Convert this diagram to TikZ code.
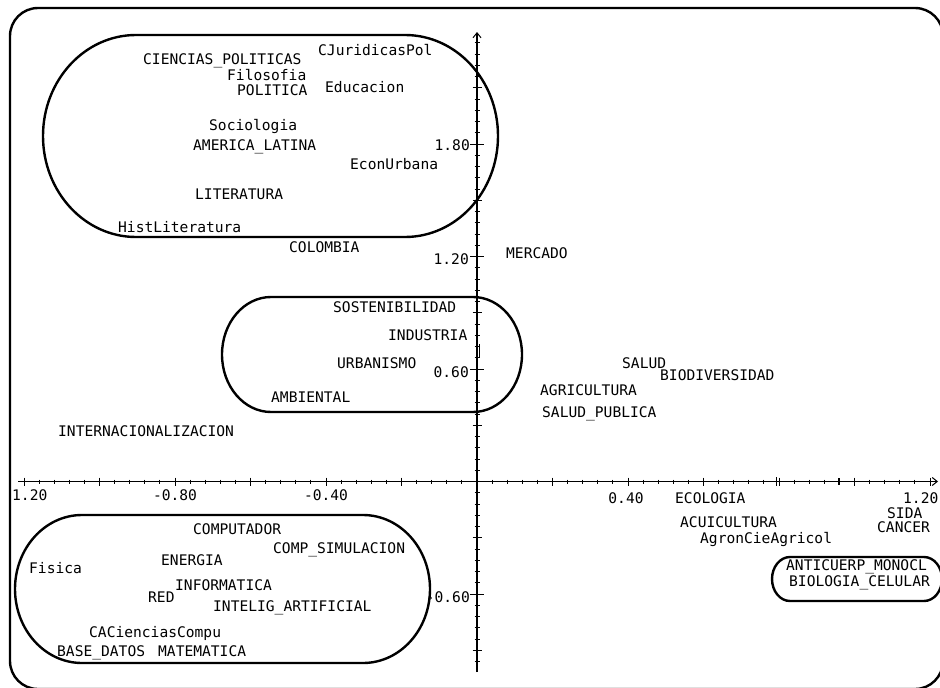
\documentclass[tikz,border=0pt]{standalone}
\usepackage{fontspec}
\setmonofont{DejaVu Sans Mono}
\usetikzlibrary{arrows.meta}
\begin{document}
\begin{tikzpicture}[x=1pt,y=-1pt,
  term/.style={font=\ttfamily\fontsize{14.6}{16}\selectfont, inner sep=0pt,
    text height=10.4pt, text depth=0pt, anchor=west},
  axlabel/.style={term},
  cluster/.style={line width=2.4pt},
  frame/.style={line width=2.4pt, rounded corners=28pt},
  axis/.style={line width=1.2pt, -{Straight Barb[length=5pt,width=8pt,line width=1pt]}},
  tick/.style={line width=1pt}]
\useasboundingbox (0,0) rectangle (940,688);
\fill[white] (0,0) rectangle (940,688);

% outer frame
\draw[frame] (10,8) rectangle (943,689);

% axes
\coordinate (xa0) at (18,481.5);
\coordinate (xa1) at (938,481.5);
\coordinate (ya0) at (477,672);
\coordinate (ya1) at (477,32);
\draw[axis] (xa0) -- (xa1);
\draw[axis] (ya0) -- (ya1);

% horizontal ticks: every 0.04, larger every 0.20
\foreach \k in {-30,...,30}
  \draw[tick] ({477+15.1*\k},479.5) -- ({477+15.1*\k},483.5);
\foreach \k in {-30,-25,...,30}
  \draw[tick] ({477+15.1*\k},477.5) -- ({477+15.1*\k},485.5);

% vertical ticks: every 0.06, larger every 0.30, labelled every 0.60
\foreach \k in {-16,...,39}
  \draw[tick] (474.5,{481.5-11.25*\k}) -- (479.5,{481.5-11.25*\k});
\foreach \k in {-15,-5,5,15,25,35}
  \draw[tick] (472.5,{481.5-11.25*\k}) -- (481.5,{481.5-11.25*\k});
\foreach \k in {-10,10,20,30}
  \draw[tick] (470,{481.5-11.25*\k}) -- (484,{481.5-11.25*\k});

% point marks on the axes
\draw[line width=1pt] (479.5,344) -- (479.5,357);
\draw[line width=2pt] (839,478) -- (839,485);
\draw[line width=1pt] (776,477) -- (776,486);

% axis values
\node[axlabel, anchor=east] (v180) at (470,145) {1.80};
\node[axlabel, anchor=east] (v120) at (469,259) {1.20};
\node[axlabel, anchor=east] (v060) at (469,372) {0.60};
\node[axlabel, anchor=east] (vm060) at (470,597) {-0.60};
\node[axlabel] (hm120) at (12,495) {1.20};
\node[axlabel, anchor=center] (hm080) at (175,495) {-0.80};
\node[axlabel, anchor=center] (hm040) at (326,495) {-0.40};
\node[axlabel, anchor=center] (h040) at (626,498) {0.40};
\node[axlabel] (h120) at (903,498) {1.20};

% clusters
\draw[cluster] (136,35) -- (405,35)
  arc[start angle=90, end angle=-90, x radius=93pt, y radius=101pt]
  -- (136,237)
  arc[start angle=270, end angle=90, x radius=93pt, y radius=101pt] -- cycle;
\draw[cluster] (271,297) -- (473,297)
  arc[start angle=90, end angle=-90, x radius=49pt, y radius=57.5pt]
  -- (271,412)
  arc[start angle=270, end angle=90, x radius=49pt, y radius=57.5pt] -- cycle;
\draw[cluster] (82,515) -- (363,515)
  arc[start angle=90, end angle=-90, x radius=67pt, y radius=74pt]
  -- (82,663)
  arc[start angle=270, end angle=90, x radius=67pt, y radius=74pt] -- cycle;
\draw[cluster] (790,557) -- (924,557)
  arc[start angle=90, end angle=-90, x radius=18pt, y radius=22pt]
  -- (790,601)
  arc[start angle=270, end angle=90, x radius=18pt, y radius=22pt] -- cycle;

% terms
\node[term] (t1) at (143,59) {CIENCIAS\_POLITICAS};
\node[term] (t2) at (318,50) {CJuridicasPol};
\node[term] (t3) at (227,75) {Filosofia};
\node[term] (t4) at (237,90) {POLITICA};
\node[term] (t5) at (325,87) {Educacion};
\node[term] (t6) at (209,125) {Sociologia};
\node[term] (t7) at (193,145) {AMERICA\_LATINA};
\node[term] (t8) at (350,164) {EconUrbana};
\node[term] (t9) at (195,194) {LITERATURA};
\node[term] (t10) at (118,227) {HistLiteratura};
\node[term] (t11) at (289,247) {COLOMBIA};
\node[term] (t12) at (506,253) {MERCADO};
\node[term] (t13) at (333,307) {SOSTENIBILIDAD};
\node[term] (t14) at (388,335) {INDUSTRIA};
\node[term] (t15) at (337,363) {URBANISMO};
\node[term] (t16) at (271,397) {AMBIENTAL};
\node[term] (t17) at (58,431) {INTERNACIONALIZACION};
\node[term] (t18) at (622,363) {SALUD};
\node[term] (t19) at (660,375) {BIODIVERSIDAD};
\node[term] (t20) at (540,390) {AGRICULTURA};
\node[term] (t21) at (542,412) {SALUD\_PUBLICA};
\node[term] (t22) at (675,498) {ECOLOGIA};
\node[term] (t23) at (680,522) {ACUICULTURA};
\node[term] (t24) at (700,538) {AgronCieAgricol};
\node[term] (t25) at (887,513) {SIDA};
\node[term] (t26) at (877,527) {CANCER};
\node[term] (t27) at (786,565) {ANTICUERP\_MONOCL};
\node[term] (t28) at (789,581) {BIOLOGIA\_CELULAR};
\node[term] (t29) at (193,529) {COMPUTADOR};
\node[term] (t30) at (273,548) {COMP\_SIMULACION};
\node[term] (t31) at (161,560) {ENERGIA};
\node[term] (t32) at (29,568) {Fisica};
\node[term] (t33) at (175,585) {INFORMATICA};
\node[term] (t34) at (148,597) {RED};
\node[term] (t35) at (213,606) {INTELIG\_ARTIFICIAL};
\node[term] (t36) at (89,632) {CACienciasCompu};
\node[term] (t37) at (57,651) {BASE\_DATOS};
\node[term] (t38) at (158,651) {MATEMATICA};
\end{tikzpicture}
\end{document}
